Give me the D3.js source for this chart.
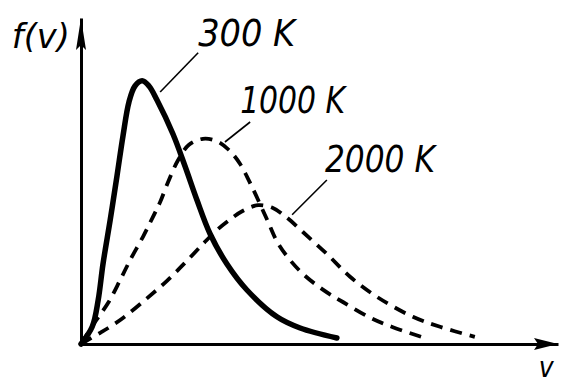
<!DOCTYPE html>
<html>
<head>
<meta charset="utf-8">
<script src="https://cdn.jsdelivr.net/npm/d3@7"></script>
<style>
  html, body { margin: 0; padding: 0; background: #fff; }
  svg { display: block; }
  .lbl { font-family: "Liberation Sans Narrow", "DejaVu Sans Condensed", "DejaVu Sans", sans-serif; font-style: italic; fill: #000; }
</style>
</head>
<body>
<div id="chart"></div>
<script>
// 1: DATA
const v300  = [0, 0.28, 0.43, 0.55, 0.73, 0.9, 1.05, 1.2, 1.35, 1.53, 1.7, 1.9, 2.3, 2.6, 2.9, 3.23, 3.65, 4.15, 4.9, 5.48, 6.4];
const f300  = [0, 0.43, 1.1, 2.0, 3.1, 4.2, 5.2, 6.05, 6.45, 6.58, 6.45, 6.1, 5.25, 4.45, 3.6, 2.75, 2.0, 1.35, 0.68, 0.4, 0.15];

const v1000 = [0, 0.35, 0.68, 0.98, 1.23, 1.55, 1.8, 1.98, 2.15, 2.43, 2.7, 3.05, 3.4, 3.7, 3.98, 4.28, 4.65, 4.95, 5.48, 6.05, 6.55, 7.23, 7.8, 8.6];
const f1000 = [0, 0.55, 1.03, 1.6, 2.1, 2.68, 3.18, 3.55, 3.98, 4.6, 4.98, 5.13, 5.07, 4.85, 4.5, 3.92, 3.12, 2.48, 1.82, 1.36, 1.05, 0.66, 0.42, 0.15];

const v2000 = [0, 0.48, 0.68, 1.05, 1.6, 2.15, 2.65, 3.05, 3.4, 3.75, 4.03, 4.43, 4.8, 5.1, 5.55, 6.15, 6.73, 7.4, 8.3, 8.98, 9.85];
const f2000 = [0, 0.28, 0.4, 0.65, 1.1, 1.58, 2.08, 2.5, 2.85, 3.13, 3.32, 3.47, 3.4, 3.2, 2.8, 2.25, 1.68, 1.18, 0.68, 0.43, 0.18];

const seriesNames = ["300 K", "1000 K", "2000 K"];
// label anchor (v, f) and leader line from/to, in data units
const labelPos   = [[2.93, 7.45], [3.98, 5.78], [6.1, 4.3]];
const leaderFrom = [[2.93, 7.28], [4.23, 5.55], [6.15, 4.1]];
const leaderTo   = [[1.98, 6.3], [3.6, 5.05], [5.28, 3.23]];
const labelWidth = [97, 105, 110];

const yLabel = "f(v)";
const xLabel = "v";

// 2: SIZES AND SCALES
const width = 562, height = 383;
const vMax = 11.93, fMax = 8.15;

const svg = d3.select("#chart").append("svg")
    .attr("width", width)
    .attr("height", height);

const x = d3.scaleLinear().domain([0, vMax]).range([81, 558]);
const y = d3.scaleLinear().domain([0, fMax]).range([344, 18]);

// 3: AXES (plain lines, no ticks) + arrow heads
svg.append("g")
    .attr("transform", `translate(0,${y(0)})`)
    .call(d3.axisBottom(x).tickValues([]).tickSizeOuter(0));
svg.append("g")
    .attr("transform", `translate(${x(0)},0)`)
    .call(d3.axisLeft(y).tickValues([]).tickSizeOuter(0));
svg.selectAll(".domain").attr("stroke", "#000").attr("stroke-width", 3);

const tipX = [x(vMax), y(0)];
svg.append("path")
    .attr("d", `M${tipX[0]},${tipX[1]} L${tipX[0] - 24},${tipX[1] - 6} L${tipX[0] - 20},${tipX[1]} L${tipX[0] - 24},${tipX[1] + 6} Z`)
    .attr("fill", "#000");
const tipY = [x(0), y(fMax)];
svg.append("path")
    .attr("d", `M${tipY[0]},${tipY[1]} L${tipY[0] - 5},${tipY[1] + 32} L${tipY[0]},${tipY[1] + 27} L${tipY[0] + 5},${tipY[1] + 32} Z`)
    .attr("fill", "#000");

// 4: CURVES
const line = d3.line()
    .x(d => x(d[0]))
    .y(d => y(d[1]))
    .curve(d3.curveCatmullRom.alpha(0.5));

const zip = (a, b) => a.map((d, i) => [d, b[i]]);

[[v2000, f2000], [v1000, f1000]].forEach(([vs, fs]) => {
    svg.append("path")
        .datum(zip(vs, fs))
        .attr("fill", "none").attr("stroke", "#000")
        .attr("stroke-width", 3.8).attr("stroke-dasharray", "12,8")
        .attr("d", line);
});

svg.append("path")
    .datum(zip(v300, f300))
    .attr("fill", "none").attr("stroke", "#000")
    .attr("stroke-width", 5.5).attr("stroke-linecap", "round")
    .attr("d", line);

// 5: LABELS + LEADER LINES
seriesNames.forEach((name, i) => {
    svg.append("line")
        .attr("x1", x(leaderFrom[i][0])).attr("y1", y(leaderFrom[i][1]))
        .attr("x2", x(leaderTo[i][0])).attr("y2", y(leaderTo[i][1]))
        .attr("stroke", "#000").attr("stroke-width", 1.6);

    svg.append("text")
        .attr("class", "lbl")
        .attr("x", x(labelPos[i][0]))
        .attr("y", y(labelPos[i][1]))
        .attr("textLength", labelWidth[i])
        .attr("lengthAdjust", "spacingAndGlyphs")
        .style("font-size", "38px")
        .text(name);
});

svg.append("text")
    .attr("class", "lbl")
    .attr("x", x(-1.73))
    .attr("y", y(7.4))
    .attr("textLength", 58)
    .attr("lengthAdjust", "spacingAndGlyphs")
    .style("font-size", "34px")
    .text(yLabel);

svg.append("text")
    .attr("class", "lbl")
    .attr("x", x(11.45))
    .attr("y", y(-0.82))
    .style("font-size", "28px")
    .text(xLabel);
</script>
</body>
</html>
